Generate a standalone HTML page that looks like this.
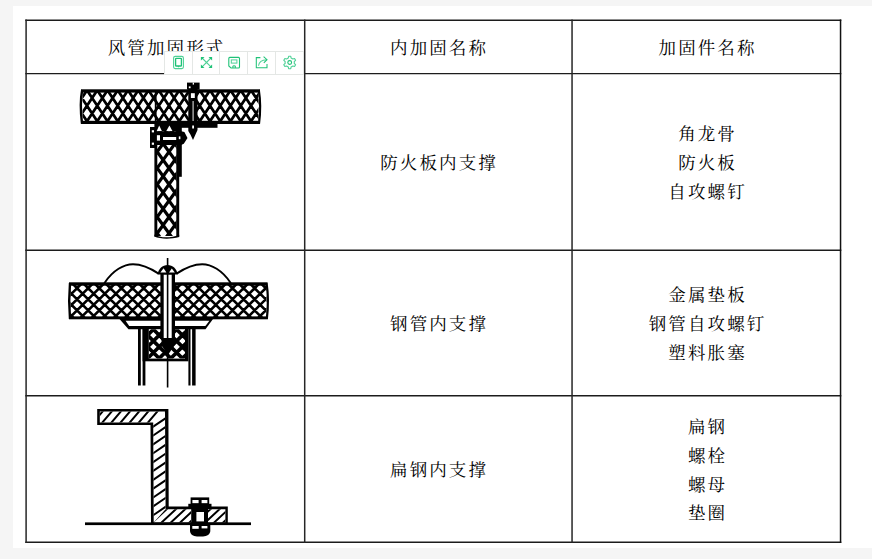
<!DOCTYPE html>
<html lang="zh-CN">
<head>
<meta charset="utf-8">
<title>风管加固形式</title>
<style>
  html, body { margin: 0; padding: 0; }
  body {
    width: 872px; height: 559px; overflow: hidden; position: relative;
    background: #f5f5f5;
    font-family: "Liberation Serif", "Noto Serif CJK SC", serif;
    color: #000;
  }
  .panel { position: absolute; left: 13px; top: 6px; width: 859px; height: 542px; background: #fff; }
  .cell {
    position: absolute; display: flex; flex-direction: column;
    align-items: center; justify-content: center;
    font-size: 17.5px; line-height: 28.8px; letter-spacing: 2.1px;
    font-weight: 400; white-space: nowrap; text-align: center;
  }
  .cell span { display: block; padding-left: 2.1px; position: relative; top: 1.2px; }
  svg.draw { position: absolute; left: 0; top: 0; overflow: visible; }
  .tb {
    position: absolute; left: 164px; top: 50.7px; width: 139.5px; height: 24px;
    background: #fff; border: 1px solid #e4e7e5; box-sizing: border-box; display: flex;
  }
  .tb i { flex: 1 1 0; border-right: 1px solid #e4e7e5; display: flex; align-items: center; justify-content: center; }
  .tb i:last-child { border-right: 0; }
</style>
</head>
<body>
<div class="panel"></div>

<!-- header -->
<div class="cell" style="left:27px;top:21px;width:277px;height:52px"><span>风管加固形式</span></div>
<div class="cell" style="left:305px;top:21px;width:266px;height:52px"><span>内加固名称</span></div>
<div class="cell" style="left:573px;top:21px;width:267px;height:52px"><span>加固件名称</span></div>

<!-- row 1 -->
<div class="cell" style="left:305px;top:74px;width:266px;height:176px"><span>防火板内支撑</span></div>
<div class="cell" style="left:573px;top:74px;width:267px;height:176px"><span>角龙骨</span><span>防火板</span><span>自攻螺钉</span></div>

<!-- row 2 -->
<div class="cell" style="left:305px;top:251px;width:266px;height:145px"><span>钢管内支撑</span></div>
<div class="cell" style="left:573px;top:251px;width:267px;height:145px"><span>金属垫板</span><span>钢管自攻螺钉</span><span>塑料胀塞</span></div>

<!-- row 3 -->
<div class="cell" style="left:305px;top:397px;width:266px;height:145px"><span>扁钢内支撑</span></div>
<div class="cell" style="left:573px;top:397px;width:267px;height:145px"><span>扁钢</span><span>螺栓</span><span>螺母</span><span>垫圈</span></div>

<!-- DRAWINGS -->
<svg class="draw" width="872" height="559" viewBox="0 0 872 559">
<g id="grid" stroke="#1c1c1c" fill="none">
<path d="M25.3 20.2H841.3" stroke-width="1.45"/>
<path d="M25.3 73.6H841.3" stroke-width="1.45"/>
<path d="M25.3 250.2H841.3" stroke-width="1.45"/>
<path d="M25.3 395.7H841.3" stroke-width="1.45"/>
<path d="M25.3 542.3H841.3" stroke-width="1.45"/>
<path d="M26.1 19.5V543" stroke-width="1.5" stroke="#262626"/>
<path d="M304.7 19.5V543" stroke-width="1.5" stroke="#262626"/>
<path d="M572.05 19.5V543" stroke-width="1.5" stroke="#262626"/>
<path d="M840.55 19.5V543" stroke-width="1.5" stroke="#111"/>
</g>
<g id="d1">
<clipPath id="c1"><rect x="82.5" y="92" width="176.00" height="29.50"/></clipPath>
<path clip-path="url(#c1)" d="M67.00 91.00L87.83 122.50M77.25 91.00L98.08 122.50M86.50 91.00L65.67 122.50M87.50 91.00L108.33 122.50M96.75 91.00L75.92 122.50M97.75 91.00L118.58 122.50M107.00 91.00L86.17 122.50M108.00 91.00L128.83 122.50M117.25 91.00L96.42 122.50M118.25 91.00L139.08 122.50M127.50 91.00L106.67 122.50M128.50 91.00L149.33 122.50M137.75 91.00L116.92 122.50M138.75 91.00L159.58 122.50M148.00 91.00L127.17 122.50M149.00 91.00L169.83 122.50M158.25 91.00L137.42 122.50M159.25 91.00L180.08 122.50M168.50 91.00L147.67 122.50M169.50 91.00L190.33 122.50M178.75 91.00L157.92 122.50M179.75 91.00L200.58 122.50M189.00 91.00L168.17 122.50M190.00 91.00L210.83 122.50M199.25 91.00L178.42 122.50M200.25 91.00L221.08 122.50M209.50 91.00L188.67 122.50M210.50 91.00L231.33 122.50M219.75 91.00L198.92 122.50M220.75 91.00L241.58 122.50M230.00 91.00L209.17 122.50M231.00 91.00L251.83 122.50M240.25 91.00L219.42 122.50M241.25 91.00L262.08 122.50M250.50 91.00L229.67 122.50M251.50 91.00L272.33 122.50M260.75 91.00L239.92 122.50M271.00 91.00L250.17 122.50M281.25 91.00L260.42 122.50" stroke="#000" stroke-width="2.75" fill="none"/>
<rect x="81" y="89.3" width="179.00" height="3.30" fill="#000"/>
<rect x="81" y="120.8" width="179.00" height="3.20" fill="#000"/>
<path d="M82.2 90 C80.6 98 80.6 112 82 123.5" stroke="#000" stroke-width="2.4" fill="none"/>
<path d="M258.8 90 C260.4 100 260.6 112 259 123.5" stroke="#000" stroke-width="2.2" fill="none"/>
<rect x="154.8" y="92" width="1.80" height="29.00" fill="#000"/>
<clipPath id="c2"><rect x="157" y="124" width="19.60" height="112.00"/></clipPath>
<path clip-path="url(#c2)" d="M77.35 123.00L159.88 237.00M89.15 123.00L171.68 237.00M100.95 123.00L183.48 237.00M112.75 123.00L195.28 237.00M124.55 123.00L207.08 237.00M166.25 123.00L83.72 237.00M136.35 123.00L218.88 237.00M178.05 123.00L95.52 237.00M148.15 123.00L230.68 237.00M189.85 123.00L107.32 237.00M159.95 123.00L242.48 237.00M201.65 123.00L119.12 237.00M171.75 123.00L254.28 237.00M213.45 123.00L130.92 237.00M225.25 123.00L142.72 237.00M237.05 123.00L154.52 237.00M248.85 123.00L166.32 237.00M260.65 123.00L178.12 237.00" stroke="#000" stroke-width="3.2" fill="none"/>
<rect x="154.4" y="123" width="2.90" height="113.60" fill="#000"/>
<rect x="176.3" y="123" width="2.90" height="113.60" fill="#000"/>
<path d="M154.4 234.5 C160 238 170 238.5 179.2 234.8 L179.2 237 C170 239.5 160 239 154.4 236.5Z" fill="#000"/>
<rect x="177" y="123" width="40.50" height="4.80" fill="#000"/>
<rect x="179" y="123" width="2.80" height="53.80" fill="#000"/>
<rect x="187" y="82.6" width="12.60" height="7.00" fill="#000"/>
<path d="M188.3 89 H197.5 V130 L193 140 L190.4 134.5 L188.3 131Z" fill="#000"/>
<rect x="192.5" y="101" width="1.20" height="20.00" fill="#c8c8c8"/>
<rect x="190.9" y="93.2" width="3.90" height="4.80" fill="#fff"/>
<rect x="188.8" y="86.4" width="1.80" height="1.80" fill="#fff"/>
<rect x="192.7" y="82.6" width="1.30" height="2.00" fill="#fff"/>
<rect x="192.2" y="125.5" width="1.80" height="3.00" fill="#fff"/>
<rect x="157" y="123" width="24.00" height="8.30" fill="#000"/>
<path d="M156.6 131.2 L159.2 125.6 L162 131.2Z" fill="#fff"/>
<path d="M166.2 131.2 L169.4 125.6 L172.6 131.2Z" fill="#fff"/>
<path d="M150 127 H155 V131.2 H181.2 L184.4 131.9 L187.5 138.1 L183.8 143.8 L181.2 145 H155 V148 H150 Z" fill="#000"/>
<rect x="156.9" y="135.2" width="3.10" height="5.40" fill="#fff"/>
<rect x="163" y="137" width="13.20" height="3.00" fill="#fff"/>
<rect x="178.8" y="136.4" width="1.60" height="2.80" fill="#fff"/>
<rect x="151.8" y="130.2" width="2.20" height="2.20" fill="#fff"/>
<rect x="151.8" y="142.6" width="2.20" height="2.20" fill="#fff"/>
</g>
<g id="d2">
<clipPath id="c3"><rect x="70.5" y="285" width="196.00" height="32.00"/></clipPath>
<path clip-path="url(#c3)" d="M39.54 284.00L73.60 318.00M50.64 284.00L84.70 318.00M61.74 284.00L95.80 318.00M70.16 284.00L36.10 318.00M72.84 284.00L106.90 318.00M81.26 284.00L47.20 318.00M83.94 284.00L118.00 318.00M92.36 284.00L58.30 318.00M95.04 284.00L129.10 318.00M103.46 284.00L69.40 318.00M106.14 284.00L140.20 318.00M114.56 284.00L80.50 318.00M117.24 284.00L151.30 318.00M125.66 284.00L91.60 318.00M128.34 284.00L162.40 318.00M136.76 284.00L102.70 318.00M139.44 284.00L173.50 318.00M147.86 284.00L113.80 318.00M150.54 284.00L184.60 318.00M158.96 284.00L124.90 318.00M161.64 284.00L195.70 318.00M170.06 284.00L136.00 318.00M172.74 284.00L206.80 318.00M181.16 284.00L147.10 318.00M183.84 284.00L217.90 318.00M192.26 284.00L158.20 318.00M194.94 284.00L229.00 318.00M203.36 284.00L169.30 318.00M206.04 284.00L240.10 318.00M214.46 284.00L180.40 318.00M217.14 284.00L251.20 318.00M225.56 284.00L191.50 318.00M228.24 284.00L262.30 318.00M236.66 284.00L202.60 318.00M239.34 284.00L273.40 318.00M247.76 284.00L213.70 318.00M250.44 284.00L284.50 318.00M258.86 284.00L224.80 318.00M261.54 284.00L295.60 318.00M269.96 284.00L235.90 318.00M281.06 284.00L247.00 318.00M292.16 284.00L258.10 318.00" stroke="#000" stroke-width="2.6" fill="none"/>
<rect x="69" y="282.3" width="198.50" height="3.40" fill="#000"/>
<rect x="69" y="316.4" width="198.50" height="2.90" fill="#000"/>
<path d="M70 283 C69 294 69 308 70 319" stroke="#000" stroke-width="2.4" fill="none"/>
<path d="M266.4 283 C268.2 292 268.4 308 266.8 319" stroke="#000" stroke-width="2.2" fill="none"/>
<path d="M104.3 283.2 C113 270 124 264.2 133 264.2 C142 264.2 151 268.5 158.6 273.6" stroke="#000" stroke-width="1.9" fill="none"/>
<path d="M230.9 283.2 C222.2 270 211.2 264.2 202.2 264.2 C193.2 264.2 184.2 268.5 176.6 273.6" stroke="#000" stroke-width="1.9" fill="none"/>
<path d="M119.5 319 H213 L205.5 329.2 H128.5 Z" fill="#000"/>
<path d="M125.6 320.8 H209.4 L205.4 325.9 H129.2 Z" fill="#fff"/>
<rect x="138" y="329" width="2.80" height="56.50" fill="#000"/>
<rect x="142.6" y="329" width="2.80" height="56.50" fill="#000"/>
<rect x="188.4" y="329" width="2.10" height="56.50" fill="#000"/>
<rect x="192.1" y="329" width="3.50" height="56.50" fill="#000"/>
<rect x="142.6" y="329" width="45.80" height="32.30" fill="#000"/>
<rect x="148.8" y="329.2" width="36.20" height="29.40" fill="#fff"/>
<clipPath id="c4"><rect x="148.8" y="329.2" width="36.20" height="29.40"/></clipPath>
<path clip-path="url(#c4)" d="M117.40 328.20L148.80 359.60M129.00 328.20L160.40 359.60M140.60 328.20L172.00 359.60M154.60 328.20L123.20 359.60M152.20 328.20L183.60 359.60M166.20 328.20L134.80 359.60M163.80 328.20L195.20 359.60M177.80 328.20L146.40 359.60M175.40 328.20L206.80 359.60M189.40 328.20L158.00 359.60M187.00 328.20L218.40 359.60M201.00 328.20L169.60 359.60M212.60 328.20L181.20 359.60" stroke="#000" stroke-width="3.6" fill="none"/>
<rect x="160.4" y="270" width="14.60" height="69.00" fill="#000"/>
<rect x="163.7" y="274.5" width="8.00" height="64.00" fill="#fff"/>
<path d="M157.6 274.4 C158.4 268.6 162.5 265 167.6 265 C172.7 265 176.8 268.6 177.6 274.4 Z" fill="#000"/>
<path d="M160.4 272.6 L163.6 268.2 L166.4 272.6Z" fill="#fff"/>
<path d="M169 272.6 L171.8 268.4 L174.8 272.6Z" fill="#fff"/>
<path d="M161.2 338 H174.6 L174.2 345.5 L168 355 L162.2 346.5Z" fill="#000"/>
<rect x="166.8" y="258" width="1.60" height="129.50" fill="#000"/>
</g>
<g id="d3">
<polygon points="97.2,408.9 168.4,408.9 168.7,506.6 227.8,506.6 227.8,523.8 151,523.8 150.5,425 97.2,425" fill="#000"/>
<polygon points="99.8,411.5 165,411.5 165.6,509.2 225.4,509.2 225.4,522.6 153.7,522.6 153.2,422.4 99.8,422.4" fill="#fff"/>
<clipPath id="c5"><polygon points="99.8,411.5 165,411.5 153.2,422.4 99.8,422.4"/></clipPath>
<path clip-path="url(#c5)" d="M49.98 462.62L127.70 371.18M59.11 462.62L136.83 371.18M68.24 462.62L145.96 371.18M77.37 462.62L155.09 371.18M86.50 462.62L164.22 371.18M95.63 462.62L173.35 371.18M104.76 462.62L182.48 371.18M113.89 462.62L191.61 371.18M123.02 462.62L200.74 371.18M132.15 462.62L209.87 371.18M141.28 462.62L219.00 371.18" stroke="#000" stroke-width="2.0" fill="none"/>
<clipPath id="c6"><polygon points="165,411.5 165.6,509.2 153.7,522.6 153.2,422.4"/></clipPath>
<path clip-path="url(#c6)" d="M109.58 438.56L208.82 371.08M109.58 447.42L208.82 379.94M109.58 456.28L208.82 388.80M109.58 465.14L208.82 397.66M109.58 474.00L208.82 406.52M109.58 482.86L208.82 415.38M109.58 491.72L208.82 424.24M109.58 500.58L208.82 433.10M109.58 509.44L208.82 441.96M109.58 518.30L208.82 450.82M109.58 527.16L208.82 459.68M109.58 536.02L208.82 468.54M109.58 544.88L208.82 477.40M109.58 553.74L208.82 486.26M109.58 562.60L208.82 495.12M109.58 571.46L208.82 503.98" stroke="#000" stroke-width="2.0" fill="none"/>
<clipPath id="c7"><polygon points="153.7,522.6 165.6,509.2 191,509.2 191,522.6"/></clipPath>
<path clip-path="url(#c7)" d="M106.56 556.36L194.44 474.64M115.86 556.36L203.74 474.64M125.16 556.36L213.04 474.64M134.46 556.36L222.34 474.64M143.76 556.36L231.64 474.64M153.06 556.36L240.94 474.64" stroke="#000" stroke-width="2.0" fill="none"/>
<clipPath id="c8"><polygon points="208,509.2 225.4,509.2 225.4,522.6 208,522.6"/></clipPath>
<path clip-path="url(#c8)" d="M159.76 556.36L247.64 474.64M168.76 556.36L256.64 474.64M177.76 556.36L265.64 474.64M186.76 556.36L274.64 474.64M195.76 556.36L283.64 474.64" stroke="#000" stroke-width="2.0" fill="none"/>
<rect x="85" y="522.4" width="166.00" height="2.70" fill="#000"/>
<rect x="190.6" y="497.4" width="18.60" height="7.10" fill="#000"/>
<rect x="192.4" y="500" width="6.20" height="3.20" fill="#fff"/>
<rect x="201.6" y="500" width="5.80" height="3.20" fill="#fff"/>
<rect x="188.3" y="503.8" width="23.20" height="4.80" fill="#000"/>
<rect x="191.2" y="508.5" width="16.80" height="14.50" fill="#000"/>
<rect x="196.4" y="512" width="7.60" height="9.40" fill="#fff"/>
<path d="M190 525 H210.3 V531 C210 534.5 207 536.4 203 536.4 H197 C193 536.4 190.3 534.5 190 531Z" fill="#000"/>
<rect x="192.3" y="526" width="6.40" height="2.80" fill="#fff"/>
<rect x="201.6" y="526" width="5.80" height="2.40" fill="#fff"/>
</g>
</svg>

<!-- floating toolbar -->
<div class="tb"><i></i><i></i><i></i><i></i><i></i></div>
<svg class="draw" id="icons" width="872" height="559" viewBox="0 0 872 559">
<rect x="173.6" y="56.4" width="9.8" height="12.2" rx="1.6" fill="none" stroke="#4fd197" stroke-width="1.1"/>
<rect x="175.6" y="58.4" width="5.8" height="7.6" rx="0.6" fill="none" stroke="#1fc277" stroke-width="1.3"/>
<path d="M177.4 66.2 L178.5 67.6 L179.6 66.2Z" fill="#1fc277"/>
<path d="M201.6 57.5 L211.4 67.4 M211.4 57.5 L201.6 67.4" stroke="#4fd197" stroke-width="1.1" fill="none"/>
<path d="M200.90 56.90 L204.50 56.90 L200.90 60.50Z" fill="#1fc277"/>
<path d="M212.10 56.90 L208.50 56.90 L212.10 60.50Z" fill="#1fc277"/>
<path d="M200.90 68.00 L204.50 68.00 L200.90 64.40Z" fill="#1fc277"/>
<path d="M212.10 68.00 L208.50 68.00 L212.10 64.40Z" fill="#1fc277"/>
<path d="M229.8 57.4 H238.5 Q239.5 57.4 239.5 58.4 V67 Q239.5 68 238.5 68 H231 L228.8 66 V58.4 Q228.8 57.4 229.8 57.4Z" fill="none" stroke="#1fc277" stroke-width="1.1"/>
<rect x="231.3" y="59.9" width="5.6" height="3.2" fill="none" stroke="#4fd197" stroke-width="1"/>
<path d="M232.9 68 V65.9 H235.3 V68" fill="none" stroke="#1fc277" stroke-width="1"/>
<path d="M260.4 57.6 H256.3 V67.8 H267 V64" fill="none" stroke="#1fc277" stroke-width="1.05"/>
<path d="M258.5 65.8 C259 62 262 59.8 266.6 59.7" fill="none" stroke="#4fd197" stroke-width="1.05"/>
<path d="M263.6 56.6 L267 59.7 L263.8 62.8" fill="none" stroke="#1fc277" stroke-width="1.05"/>
<path d="M288.31 58.01L288.63 56.29L290.77 56.29L291.09 58.01L292.89 59.05L294.54 58.47L295.61 60.32L294.28 61.46L294.28 63.54L295.61 64.68L294.54 66.53L292.89 65.95L291.09 66.99L290.77 68.71L288.63 68.71L288.31 66.99L286.51 65.95L284.86 66.53L283.79 64.68L285.12 63.54L285.12 61.46L283.79 60.32L284.86 58.47L286.51 59.05Z" fill="none" stroke="#4fd197" stroke-width="1.1" stroke-linejoin="round"/>
<circle cx="289.7" cy="62.5" r="1.9" fill="none" stroke="#1fc277" stroke-width="1.1"/>
</svg>
</body>
</html>
